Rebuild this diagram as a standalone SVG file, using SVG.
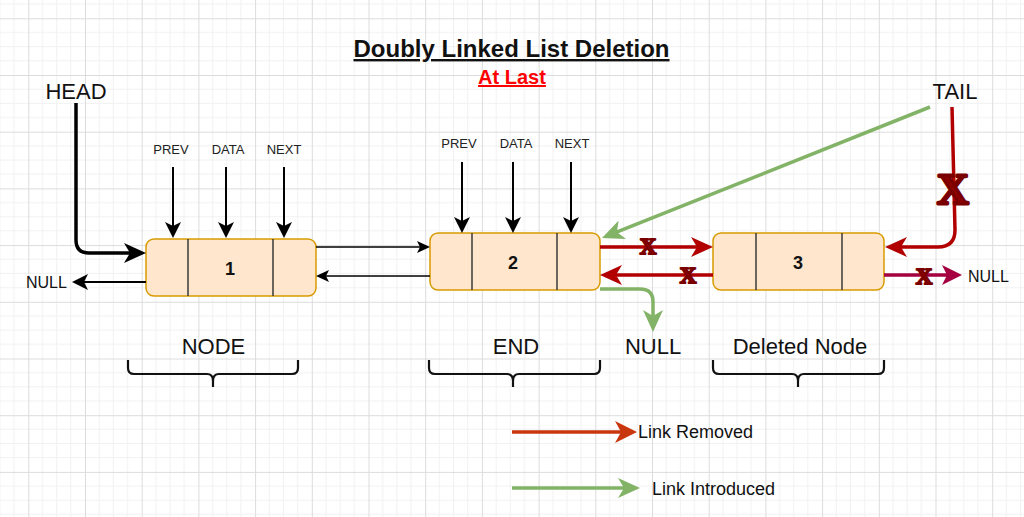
<svg xmlns="http://www.w3.org/2000/svg" width="1024" height="517" viewBox="0 0 1024 517">
<style>
.t{font-family:"Liberation Sans",Arial,sans-serif;fill:#111}
.lbl{font-size:22px;text-anchor:middle}
.ptr{font-size:13px;text-anchor:middle;fill:#222}
.num{font-size:18px;font-weight:bold;text-anchor:middle}
.node{fill:#FFE6CC;stroke:#D79B00;stroke-width:1.5}
.div{stroke:#3a3a3a;stroke-width:1.5}
.brace{fill:none;stroke:#111;stroke-width:2.2}
.x{font-family:"Liberation Serif","Times New Roman",serif;font-weight:bold;fill:#8B0000;stroke:#7A0000;stroke-linejoin:round;text-anchor:middle}
</style>
<defs>
<pattern id="grid" x="28.3" y="18.3" width="56.7" height="56.7" patternUnits="userSpaceOnUse">
<path d="M14.175,0V56.7M28.35,0V56.7M42.525,0V56.7M0,14.175H56.7M0,28.35H56.7M0,42.525H56.7" stroke="#f1f1f1" stroke-width="1" fill="none"/>
<path d="M0.5,0V56.7M0,0.5H56.7" stroke="#dcdcdc" stroke-width="1" fill="none"/>
</pattern>
<marker id="mBlackL" markerUnits="userSpaceOnUse" markerWidth="22" markerHeight="20" refX="7" refY="10" orient="auto"><path d="M0,0L22,10L0,20L6,10Z" fill="#000"/></marker>
<marker id="mBlackM" markerUnits="userSpaceOnUse" markerWidth="16" markerHeight="16" refX="5" refY="8" orient="auto"><path d="M0,0L16,8L0,16L4,8Z" fill="#000"/></marker>
<marker id="mBlackS" markerUnits="userSpaceOnUse" markerWidth="13" markerHeight="12" refX="4" refY="6" orient="auto"><path d="M0,0L13,6L0,12L3,6Z" fill="#000"/></marker>
<marker id="mRed" markerUnits="userSpaceOnUse" markerWidth="22" markerHeight="20" refX="7" refY="10" orient="auto"><path d="M0,0L22,10L0,20L6,10Z" fill="#B20000"/></marker>
<marker id="mGreen" markerUnits="userSpaceOnUse" markerWidth="22" markerHeight="20" refX="7" refY="10" orient="auto"><path d="M0,0L22,10L0,20L6,10Z" fill="#82B366"/></marker>
<marker id="mMag" markerUnits="userSpaceOnUse" markerWidth="20" markerHeight="20" refX="6" refY="10" orient="auto"><path d="M0,0L20,10L0,20L5,10Z" fill="#A50040"/></marker>
<marker id="mLeg" markerUnits="userSpaceOnUse" markerWidth="22" markerHeight="22" refX="7" refY="11" orient="auto"><path d="M0,0L22,11L0,22L6,11Z" fill="#C8370E"/></marker>
</defs>
<rect width="1024" height="517" fill="#fff"/>
<rect width="1024" height="517" fill="url(#grid)"/>

<g id="title">
<text class="t" x="511.5" y="57" font-size="24" font-weight="bold" text-anchor="middle" text-decoration="underline">Doubly Linked List Deletion</text>
<text class="t" x="512" y="84" font-size="20" font-weight="bold" text-anchor="middle" text-decoration="underline" style="fill:#FF0000">At Last</text>
</g>

<g id="head"><text class="t" x="76" y="99" font-size="22" text-anchor="middle">HEAD</text></g>
<g id="tail"><text class="t" x="955" y="99" font-size="22" text-anchor="middle">TAIL</text></g>

<g id="ptr1">
<text class="t ptr" x="171" y="154">PREV</text>
<text class="t ptr" x="228" y="154">DATA</text>
<text class="t ptr" x="284" y="154">NEXT</text>
</g>
<g id="ptr2">
<text class="t ptr" x="459" y="148">PREV</text>
<text class="t ptr" x="516" y="148">DATA</text>
<text class="t ptr" x="572" y="148">NEXT</text>
</g>

<g id="node1">
<rect class="node" x="146" y="239" width="170" height="57" rx="8"/>
<line class="div" x1="188" y1="239" x2="188" y2="296"/>
<line class="div" x1="273" y1="239" x2="273" y2="296"/>
<text class="t num" x="230" y="275">1</text>
</g>
<g id="node2">
<rect class="node" x="430" y="233" width="170" height="57" rx="8"/>
<line class="div" x1="472" y1="233" x2="472" y2="290"/>
<line class="div" x1="557" y1="233" x2="557" y2="290"/>
<text class="t num" x="513" y="269">2</text>
</g>
<g id="node3">
<rect class="node" x="713" y="233" width="171" height="57" rx="8"/>
<line class="div" x1="756" y1="233" x2="756" y2="290"/>
<line class="div" x1="842" y1="233" x2="842" y2="290"/>
<text class="t num" x="798" y="269">3</text>
</g>

<g id="null-left"><text class="t" x="26" y="288" font-size="16">NULL</text></g>
<g id="null-right"><text class="t" x="968" y="282" font-size="16">NULL</text></g>
<g id="null-mid"><text class="t lbl" x="653" y="354">NULL</text></g>

<g id="label-node">
<text class="t lbl" x="213.5" y="354">NODE</text>
<path class="brace" d="M128,360V368Q128,374 134,374H207Q213,374 213,381V387M213,381Q213,374 219,374H292Q298,374 298,368V360"/>
</g>
<g id="label-end">
<text class="t lbl" x="516" y="354">END</text>
<path class="brace" d="M429,360V368Q429,374 435,374H507Q513,374 513,381V387M513,381Q513,374 519,374H594Q600,374 600,368V360"/>
</g>
<g id="label-deleted">
<text class="t lbl" x="800" y="354">Deleted Node</text>
<path class="brace" d="M713,360V368Q713,374 719,374H792Q798,374 798,381V387M798,381Q798,374 804,374H878Q884,374 884,368V360"/>
</g>

<g id="connectors" fill="none">
<path d="M76,103V240Q76,253 89,253H131" stroke="#000" stroke-width="3.5" marker-end="url(#mBlackL)"/>
<path d="M173,167V227" stroke="#000" stroke-width="2" marker-end="url(#mBlackM)"/>
<path d="M226,167V227" stroke="#000" stroke-width="2" marker-end="url(#mBlackM)"/>
<path d="M284,167V227" stroke="#000" stroke-width="2" marker-end="url(#mBlackM)"/>
<path d="M462,162V222" stroke="#000" stroke-width="2" marker-end="url(#mBlackM)"/>
<path d="M513,162V222" stroke="#000" stroke-width="2" marker-end="url(#mBlackM)"/>
<path d="M571,162V222" stroke="#000" stroke-width="2" marker-end="url(#mBlackM)"/>
<path d="M316,247H421" stroke="#000" stroke-width="1.3" marker-end="url(#mBlackS)"/>
<path d="M430,276H325" stroke="#000" stroke-width="1.3" marker-end="url(#mBlackS)"/>
<path d="M146,282H83" stroke="#000" stroke-width="2.2" marker-end="url(#mBlackM)"/>
<path d="M600,247H698" stroke="#B20000" stroke-width="3.5" marker-end="url(#mRed)"/>
<path d="M713,275H615" stroke="#B20000" stroke-width="3.5" marker-end="url(#mRed)"/>
<path d="M952,107L955,230Q955,247 938,247H900" stroke="#B20000" stroke-width="3.5" marker-end="url(#mRed)"/>
<path d="M930,107L615.9,232.4" stroke="#82B366" stroke-width="3.5" marker-end="url(#mGreen)"/>
<path d="M600,289H640Q653,289 653,302V317" stroke="#82B366" stroke-width="3.5" marker-end="url(#mGreen)"/>
<path d="M884,275H948" stroke="#A50040" stroke-width="3.5" marker-end="url(#mMag)"/>
</g>

<g id="marks">
<text class="x" x="953" y="204" font-size="44" stroke-width="3">X</text>
<text class="x" x="648" y="254" font-size="23" stroke-width="2">X</text>
<text class="x" x="688" y="283" font-size="23" stroke-width="2">X</text>
<text class="x" x="924" y="284" font-size="23" stroke-width="2">X</text>
</g>

<g id="legend" fill="none">
<path d="M512,432H622" stroke="#C8370E" stroke-width="3.5" marker-end="url(#mLeg)"/>
<path d="M512,488H625" stroke="#82B366" stroke-width="3.5" marker-end="url(#mGreen)"/>
<text class="t" x="638" y="438" font-size="18">Link Removed</text>
<text class="t" x="652" y="495" font-size="18">Link Introduced</text>
</g>
</svg>
